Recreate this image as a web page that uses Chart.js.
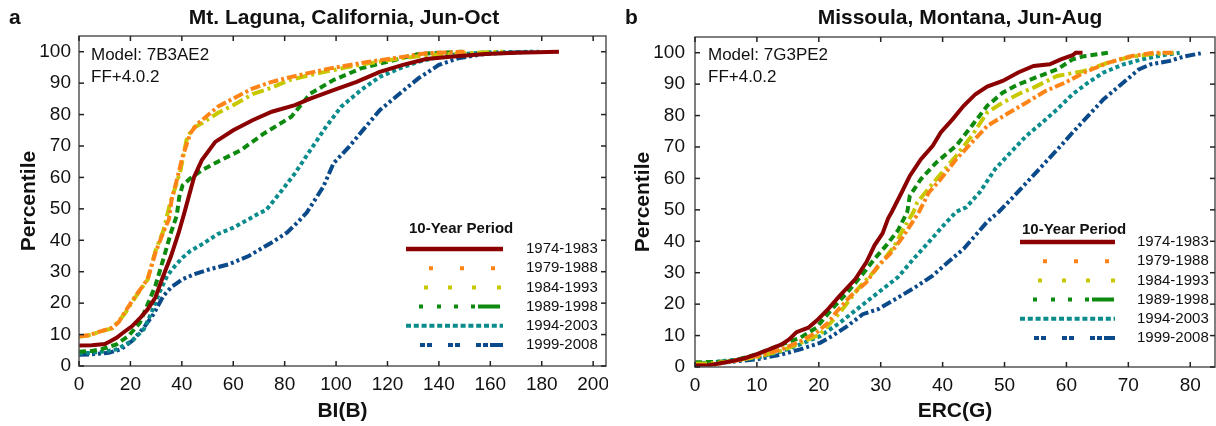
<!DOCTYPE html>
<html>
<head>
<meta charset="utf-8">
<script src="https://cdn.jsdelivr.net/npm/chart.js@4"></script>
<style>
  body { margin: 0; background: #fff; width: 1216px; height: 426px; overflow: hidden; position: relative; }
  canvas { position: absolute; top: 0; }
</style>
</head>
<body>
<canvas id="chartA" width="608" height="426" style="left:0"></canvas>
<canvas id="chartB" width="608" height="426" style="left:608px"></canvas>
<script>
// ---- data: [index value, percentile] ----
const periods = ['1974-1983', '1979-1988', '1984-1993', '1989-1998', '1994-2003', '1999-2008'];

// a) Mt. Laguna, BI(B)
const laguna1974 = [[0,6.5],[5,6.6],[10,7],[12,7.8],[14.6,9],[17,10.5],[20.7,12.7],[24,15.5],[26.7,18],[29.7,21.8],[32.8,28.7],[35.8,35],[38.8,42.5],[41,48.8],[44.8,60.2],[47.8,65.5],[53,71.3],[60,75],[67.5,78.2],[75,80.9],[84,83],[90,85.1],[99,87.8],[108,90.4],[117,93.6],[126,95.8],[135,97.7],[144.5,98.4],[158,99.3],[170,99.7],[186.7,100]];
const laguna1979 = [[0,9.5],[4,9.8],[8.6,11.1],[13,12.2],[15.5,14],[17.7,17],[22,22.3],[26.7,27.6],[29.7,36],[32.8,42.5],[35,46.7],[36,52.8],[38,59],[40.3,66.6],[43.3,74],[46,77],[49.4,79.3],[54,82.5],[60,85.1],[67.5,88.3],[75,90.4],[82.6,92],[97.7,94.7],[112.8,96.8],[127.8,98.6],[135,99.5],[150,100]];
const laguna1984 = [[0,9.3],[4,9.8],[8.6,11],[13,12],[17.7,16.5],[22,22],[26.7,27.5],[29.7,36.5],[32.8,43],[35.5,52],[37.5,57],[39.5,62.3],[41.8,71.9],[44,75.5],[47.8,77.2],[54,80.5],[60,83],[67.5,86.5],[75,88.6],[82,91],[90,92.6],[105,95.2],[120,97.3],[135,98.9],[158,99.8],[165,100]];
const laguna1989 = [[0,4.5],[5,4.8],[8.6,5.3],[14.6,6.9],[19.2,9.5],[23.7,13.8],[26.7,19.6],[29.7,25.5],[32.8,34],[35.8,42.5],[38,47.8],[39,53.8],[40.3,57.5],[43.3,59.7],[47.8,62.3],[54,65],[63,68.7],[72,74],[82.6,79.3],[90,86.7],[99,91],[109.7,94.7],[120,96.8],[132,99.3],[149,100]];
const laguna1994 = [[0,4],[5,4.2],[10,4.6],[14.6,5.3],[20.7,8],[25.2,11.7],[28.2,17],[31.3,23.4],[34.3,28.7],[37.3,31.8],[40.3,34.5],[43.3,36.6],[47.8,38.7],[54,42],[60,44],[66,46.7],[70.5,48.8],[72.8,49.6],[78,54.9],[84,61.3],[90,68.7],[96,76],[102,82.5],[109.7,87.8],[117,92],[124.8,94.7],[132,96.8],[143,98.9],[158,99.8],[179,100]];
const laguna1999 = [[0,3.6],[5,3.7],[11.6,4.2],[16.2,5.3],[20.7,8],[25.2,12.2],[29,16.5],[32.8,22.3],[35.8,25],[40.3,27.6],[44.8,29.2],[50.9,30.8],[58.4,32.4],[66,35],[75,39.3],[81,42.5],[85.6,46.2],[88.6,48.8],[90,50.6],[95,57],[99,64.5],[105,69.7],[111,75.6],[117,81.4],[124.8,86.7],[132,91.5],[140,95.8],[147.5,97.9],[158,99.3],[176,100]];

// b) Missoula, ERC(G)
const missoula1974 = [[0,0.5],[2,0.5],[3.5,1],[5.8,1.8],[8,2.8],[9.9,4],[12,5.6],[14,7.2],[15.2,8.8],[16.4,11.1],[18.3,12.5],[19.9,15.2],[21.5,18.4],[23.4,22.7],[25.9,28],[27.7,33.4],[29,38.7],[30.3,42.5],[31.2,47.3],[31.8,49.4],[33.4,55.6],[34.7,60.8],[36.5,66.1],[38.4,70.4],[39.7,74.6],[41.6,78.8],[43.4,83.1],[45.3,86.8],[47.2,89.2],[49.7,91],[52.2,93.7],[54.7,95.8],[57.3,96.3],[59.1,97.9],[61,99.2],[61.5,100],[62.6,100]];
const missoula1979 = [[0,0.5],[3,0.8],[6,1.8],[9.9,3.4],[14,5.6],[17,8.2],[19.6,10.9],[21.5,14.1],[23,17.9],[25.2,22.7],[27.7,27],[29.6,32.3],[31.5,36],[33.4,40.9],[35,45.7],[36.2,49.4],[37.8,55.6],[39.7,59.8],[42.2,66.1],[44.7,71.4],[47.2,76.7],[50.3,80.4],[53.5,84.1],[56.6,87.8],[59.8,90.5],[62.9,93.7],[66.7,96.8],[70.4,98.9],[74.2,100],[77.3,100]];
const missoula1984 = [[0,1],[3,1.2],[6,1.9],[10,3.2],[14,5.2],[17,7.6],[20.2,10.4],[23.4,17.3],[26.5,25.3],[29.6,31.8],[32.1,38.2],[34,45.1],[35.3,49.4],[35.9,52.4],[39,59.8],[42.2,67.2],[44.7,73.5],[47.2,81],[49.7,84.1],[52.2,86.8],[54.7,88.9],[58.5,92.6],[62.9,94.2],[66.7,96.8],[70.4,98.7],[73.6,99.5],[77.3,100]];
const missoula1989 = [[0,1.5],[3,1.6],[5.8,1.8],[9.9,4],[14,7.2],[17,9.3],[19.6,12.5],[22.1,18.4],[24.6,23.7],[27.1,29.6],[29,34.4],[30.9,38.7],[32.8,43.5],[34.3,49.4],[34.7,54.5],[36.5,59.8],[39,65.1],[42.2,70.4],[44.7,76.7],[47.2,83.1],[49.7,87.3],[52.2,89.9],[55.4,92.4],[58.5,94.7],[61,97.9],[62.9,98.9],[66.7,100]];
const missoula1994 = [[0,1.2],[3,1.5],[5,2],[9.9,2.9],[14,5],[17,7.2],[20.2,9.8],[23.4,14.1],[26.5,18.9],[29.6,23.7],[32.8,28.6],[35.3,34.4],[37.8,39.8],[39.7,44.1],[42.2,49.4],[43.8,50.8],[46,55.6],[48.5,63],[51,68.3],[53.5,73.5],[56.1,77.8],[58.5,82],[61,86.8],[63.5,90.5],[66,93.7],[69.2,96.3],[72.3,97.9],[75.5,99.2],[78.3,100]];
const missoula1999 = [[0,0.6],[3,0.8],[5,1.5],[9.9,2.4],[14,4],[17,5.6],[20.2,7.7],[22.1,9.8],[24.6,13],[27.1,16.8],[29.6,18.4],[32.8,22.1],[36,25.9],[38.4,29.1],[40.9,33.4],[43.4,37.6],[45.3,41.9],[47.2,46.2],[49.1,49.4],[51.6,54.5],[54.1,59.8],[56.6,65.1],[59.1,70.4],[61,74.6],[63.5,79.9],[66,85.2],[69.2,90.5],[71.7,94.7],[73.6,96.3],[76.7,97.4],[79.2,98.9],[81.7,99.8]];

const yTicks = [0, 10, 20, 30, 40, 50, 60, 70, 80, 90, 100];
const lagunaXTicks = [0, 20, 40, 60, 80, 100, 120, 140, 160, 180, 200];
const missoulaXTicks = [0, 10, 20, 30, 40, 50, 60, 70, 80];

// ---- styles ----
const colors = ['#8b0000', '#ff8418', '#c8c800', '#0e8a0e', '#0a8c8c', '#0a4a8a'];
const plotDash = [[], [10, 3, 3, 3], [12, 4, 3, 4], [7, 4], [4, 3], [10, 3, 3, 3, 3, 3]];
const legendDash = [
  [],
  [0, 23, 4, 27, 4, 27, 4, 10],
  [0, 18, 4, 20, 4, 20, 4, 21, 4, 5],
  [0, 13, 4, 14, 4, 13, 4, 13, 4, 3, 9],
  [5, 2.8],
  [0, 14, 5, 2, 5, 16, 5, 2, 5, 16, 5, 2, 5, 2, 12]
];
const FONT = '"Liberation Sans", Arial, sans-serif';
Chart.defaults.font.family = FONT;

function toPoints(arr) { return arr.map(p => ({ x: p[0], y: p[1] })); }

function makeDatasets(series) {
  return series.map((s, i) => ({
    label: periods[i],
    data: toPoints(s),
    borderColor: colors[i],
    backgroundColor: colors[i],
    borderWidth: 4,
    borderDash: plotDash[i],
    pointRadius: 0,
    tension: 0,
    fill: false
  }));
}

const decor = {
  id: 'decor',
  afterDraw(chart, args, o) {
    const ctx = chart.ctx, a = chart.chartArea;
    const xs = chart.scales.x, ys = chart.scales.y;
    ctx.save();
    const seg = (x1, y1, x2, y2) => { ctx.beginPath(); ctx.moveTo(x1, y1); ctx.lineTo(x2, y2); ctx.stroke(); };

    // frame
    ctx.strokeStyle = '#555';
    ctx.lineWidth = 1.5;
    ctx.strokeRect(a.left, a.top, a.right - a.left, a.bottom - a.top);

    // inward ticks on all four sides
    ctx.strokeStyle = '#222';
    o.xTicks.forEach(v => {
      const px = xs.getPixelForValue(v);
      seg(px, a.bottom, px, a.bottom - 5);
      seg(px, a.top, px, a.top + 5);
    });
    yTicks.forEach(v => {
      const py = ys.getPixelForValue(v);
      seg(a.left, py, a.left + 5, py);
      seg(a.right, py, a.right - 5, py);
    });

    // tick labels
    ctx.fillStyle = '#111';
    ctx.font = '19px ' + FONT;
    ctx.textAlign = 'center';
    ctx.textBaseline = 'middle';
    o.xTicks.forEach(v => ctx.fillText(String(v), xs.getPixelForValue(v), a.bottom + 19));
    ctx.textAlign = 'right';
    yTicks.forEach(v => ctx.fillText(String(v), a.left - o.yLabelGap, ys.getPixelForValue(v)));

    // titles
    ctx.font = 'bold 21px ' + FONT;
    ctx.textAlign = 'left';
    ctx.fillText(o.letter, o.letterX, 18);
    ctx.textAlign = 'center';
    ctx.fillText(o.title, o.titleX, 18);
    ctx.fillText(o.xTitle, (a.left + a.right) / 2, 411);
    ctx.save();
    ctx.translate(o.yTitleX, (a.top + a.bottom) / 2);
    ctx.rotate(-Math.PI / 2);
    ctx.fillText('Percentile', 0, 0);
    ctx.restore();

    // model note
    ctx.font = '17px ' + FONT;
    ctx.textAlign = 'left';
    ctx.fillText(o.model, o.modelX, 55);
    ctx.fillText('FF+4.0.2', o.modelX, 77);

    // legend
    const L = o.legend;
    ctx.font = 'bold 15px ' + FONT;
    ctx.fillText('10-Year Period', L.titleX, L.titleY);
    ctx.font = '15px ' + FONT;
    periods.forEach((p, i) => {
      const y = L.rowY + i * L.rowGap;
      ctx.strokeStyle = colors[i];
      ctx.lineWidth = i === 0 ? 4.5 : 4;
      ctx.lineCap = 'butt';
      ctx.setLineDash(legendDash[i]);
      seg(L.x0, y, L.x1, y);
      ctx.setLineDash([]);
      ctx.fillStyle = '#111';
      ctx.fillText(p, L.labelX, y);
    });
    ctx.restore();
  }
};

function makeChart(id, series, xMax, pad, deco) {
  return new Chart(document.getElementById(id), {
    type: 'line',
    data: { datasets: makeDatasets(series) },
    options: {
      responsive: false,
      animation: false,
      devicePixelRatio: 1,
      layout: { padding: pad },
      scales: {
        x: { type: 'linear', min: 0, max: xMax, display: false },
        y: { type: 'linear', min: 0, max: 105, display: false }
      },
      plugins: {
        legend: { display: false },
        tooltip: { enabled: false },
        decor: deco
      }
    },
    plugins: [decor]
  });
}

makeChart('chartA',
  [laguna1974, laguna1979, laguna1984, laguna1989, laguna1994, laguna1999],
  205, { left: 79, right: 2, top: 36, bottom: 60 },
  {
    xTicks: lagunaXTicks, yLabelGap: 8, letter: 'a', letterX: 9,
    title: 'Mt. Laguna, California, Jun-Oct', titleX: 344, xTitle: 'BI(B)', yTitleX: 29,
    model: 'Model: 7B3AE2', modelX: 91,
    legend: { x0: 406, x1: 503, titleX: 409, titleY: 229, rowY: 249, rowGap: 19.2, labelX: 526 }
  });

makeChart('chartB',
  [missoula1974, missoula1979, missoula1984, missoula1989, missoula1994, missoula1999],
  84, { left: 87, right: 1, top: 37, bottom: 59 },
  {
    xTicks: missoulaXTicks, yLabelGap: 10, letter: 'b', letterX: 17,
    title: 'Missoula, Montana, Jun-Aug', titleX: 352, xTitle: 'ERC(G)', yTitleX: 35,
    model: 'Model: 7G3PE2', modelX: 100,
    legend: { x0: 412, x1: 507, titleX: 414, titleY: 230, rowY: 242, rowGap: 19.2, labelX: 529 }
  });
</script>
</body>
</html>
